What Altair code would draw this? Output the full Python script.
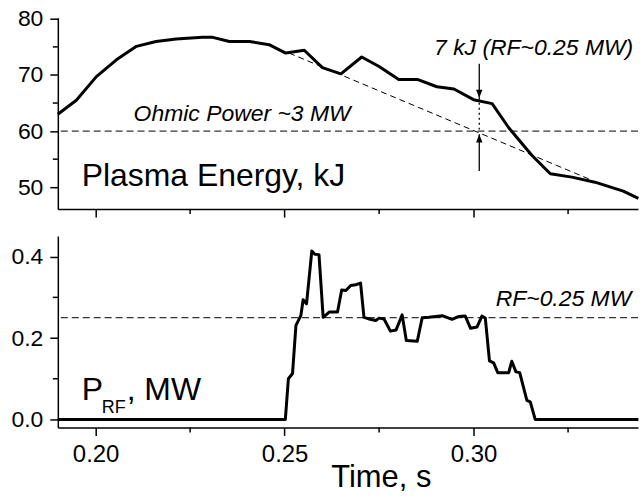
import altair as alt
import pandas as pd

FONT = "Liberation Sans"

# ---- data ----
energy_t = [0.1900, 0.1949, 0.2002, 0.2055, 0.2108, 0.2160, 0.2213, 0.2283, 0.2310,
            0.2354, 0.2407, 0.2459, 0.2503, 0.2552, 0.2600, 0.2649, 0.2704, 0.2750,
            0.2802, 0.2851, 0.2903, 0.2948, 0.3000, 0.3049, 0.3093, 0.3154, 0.3203,
            0.3260, 0.3321, 0.3396, 0.3436]
energy_kj = [63.0, 65.5, 69.7, 72.7, 75.1, 75.95, 76.4, 76.7, 76.7,
             75.95, 75.95, 75.4, 73.9, 74.4, 71.3, 70.2, 73.2, 71.5,
             69.2, 69.2, 67.9, 67.5, 65.6, 64.9, 60.6, 55.7, 52.4,
             51.8, 50.9, 49.3, 48.0]

prf_t = [0.1900, 0.2502, 0.2510, 0.2521, 0.2530, 0.2543, 0.2549, 0.2558, 0.2572, 0.2580,
         0.2591, 0.2602, 0.2618, 0.2640, 0.2651, 0.2662, 0.2675, 0.2688, 0.2701, 0.2710,
         0.2723, 0.2741, 0.2750, 0.2763, 0.2780, 0.2795, 0.2811, 0.2822, 0.2851, 0.2864,
         0.2882, 0.2917, 0.2943, 0.2961, 0.2978, 0.2992, 0.3009, 0.3022, 0.3031, 0.3042,
         0.3053, 0.3064, 0.3093, 0.3101, 0.3112, 0.3122, 0.3141, 0.3150, 0.3163, 0.3436]
prf_mw = [0.0, 0.0, 0.100, 0.113, 0.231, 0.255, 0.294, 0.284, 0.414, 0.406,
          0.405, 0.251, 0.264, 0.264, 0.318, 0.317, 0.329, 0.331, 0.335, 0.251,
          0.247, 0.243, 0.249, 0.247, 0.217, 0.220, 0.257, 0.194, 0.192, 0.250,
          0.251, 0.255, 0.246, 0.253, 0.254, 0.224, 0.227, 0.254, 0.249, 0.144,
          0.139, 0.115, 0.115, 0.143, 0.117, 0.115, 0.047, 0.043, 0.0, 0.0]

ohmic_level = 60
rf_level = 0.25
trend_t = [0.2512, 0.3313]
trend_kj = [73.9, 51.25]
arrow_t = 0.3015
arrow_top = [71.98, 65.94]      # upper solid arrow, tail -> tip
arrow_dot = [65.94, 60.3]       # dotted connector
arrow_bottom = [52.9, 59.42]    # lower solid arrow, tail -> tip

x_major = [0.20, 0.25, 0.30]
x_minor = [0.225, 0.275, 0.325]
e_major = [50, 60, 70, 80]
e_minor = [55, 65, 75]
p_major = [0.0, 0.2, 0.4]
p_minor = [0.1, 0.3]

X_DOMAIN = [0.19, 0.3435]
E_DOMAIN = [46.1, 80.2]
P_DOMAIN = [-0.0196, 0.4507]

W, H = 582, 192
MINOR = 5

df_e = pd.DataFrame({"t": energy_t, "E": energy_kj})
df_p = pd.DataFrame({"t": prf_t, "P": prf_mw})

xs = alt.Scale(domain=X_DOMAIN, nice=False, zero=False)
es = alt.Scale(domain=E_DOMAIN, nice=False, zero=False)
ps = alt.Scale(domain=P_DOMAIN, nice=False, zero=False)

x_axis_top = alt.Axis(values=x_major, labels=False, title=None)
x_axis_bot = alt.Axis(values=x_major, format=".2f",
                      title="Time, s", titleX=324, titleY=59, titleBaseline="alphabetic",
                      titleAlign="center")
y_axis_e = alt.Axis(values=e_major, format="d", title=None)
y_axis_p = alt.Axis(values=p_major, format=".1f", title=None)


def X():
    return alt.X("t:Q", scale=xs)


def minor_x(vals):
    return alt.Chart(pd.DataFrame({"t": vals})).mark_rule(color="black", strokeWidth=1.5).encode(
        x=X(), y=alt.value(H), y2=alt.value(H + MINOR))


def minor_y(vals, scale):
    return alt.Chart(pd.DataFrame({"v": vals})).mark_rule(color="black", strokeWidth=1.5).encode(
        y=alt.Y("v:Q", scale=scale), x=alt.value(0), x2=alt.value(-MINOR))


def label(t, v, text, scale, size, italic=False, align="left"):
    kw = dict(font=FONT, fontSize=size, align=align, baseline="alphabetic", color="black")
    if italic:
        kw["fontStyle"] = "italic"
    return alt.Chart(pd.DataFrame({"t": [t], "v": [v], "label": [text]})).mark_text(**kw).encode(
        x=X(), y=alt.Y("v:Q", scale=scale), text="label:N")


# ---------------- top panel ----------------
e_line = alt.Chart(df_e).mark_line(color="black", strokeWidth=3, strokeJoin="round").encode(
    x=alt.X("t:Q", scale=xs, axis=x_axis_top),
    y=alt.Y("E:Q", scale=es, axis=y_axis_e),
)
e_base = alt.Chart(pd.DataFrame({"v": [ohmic_level]})).mark_rule(
    color="black", strokeWidth=1, strokeDash=[7, 4]).encode(y=alt.Y("v:Q", scale=es))
trend = alt.Chart(pd.DataFrame({"t": trend_t, "E": trend_kj})).mark_line(
    color="black", strokeWidth=1, strokeDash=[6, 4]).encode(
    x=X(), y=alt.Y("E:Q", scale=es))

arr_df = pd.DataFrame({"t": [arrow_t, arrow_t], "y1": [arrow_top[0], arrow_bottom[0]],
                       "y2": [arrow_top[1], arrow_bottom[1]]})
arrows = alt.Chart(arr_df).mark_rule(color="black", strokeWidth=1.3).encode(
    x=X(), y=alt.Y("y1:Q", scale=es), y2="y2:Q")
dot_df = pd.DataFrame({"t": [arrow_t], "y1": [arrow_dot[0]], "y2": [arrow_dot[1]]})
dotted = alt.Chart(dot_df).mark_rule(color="black", strokeWidth=1.3, strokeDash=[2, 3]).encode(
    x=X(), y=alt.Y("y1:Q", scale=es), y2="y2:Q")
head_down = alt.Chart(pd.DataFrame({"t": [arrow_t], "E": [arrow_top[1]]})).mark_point(
    shape="M -0.4 -1 L 0.4 -1 L 0 0 Z", size=260, filled=True, color="black", opacity=1).encode(
    x=X(), y=alt.Y("E:Q", scale=es))
head_up = alt.Chart(pd.DataFrame({"t": [arrow_t], "E": [arrow_bottom[1]]})).mark_point(
    shape="M -0.4 1 L 0.4 1 L 0 0 Z", size=260, filled=True, color="black", opacity=1).encode(
    x=X(), y=alt.Y("E:Q", scale=es))

t_ohmic = label(0.21005, 61.73, "Ohmic Power ~3 MW", es, 23, italic=True)
t_kj = label(0.34224, 73.63, "7 kJ (RF~0.25 MW)", es, 23, italic=True, align="right")
t_pe = label(0.19633, 50.2, "Plasma Energy, kJ", es, 32)

top = alt.layer(e_line, e_base, trend, dotted, arrows, head_down, head_up, t_ohmic, t_kj, t_pe,
                minor_x(x_minor), minor_y(e_minor, es)).properties(width=W, height=H)

# ---------------- bottom panel ----------------
p_line = alt.Chart(df_p).mark_line(color="black", strokeWidth=3, strokeJoin="round").encode(
    x=alt.X("t:Q", scale=xs, axis=x_axis_bot),
    y=alt.Y("P:Q", scale=ps, axis=y_axis_p),
)
p_base = alt.Chart(pd.DataFrame({"v": [rf_level]})).mark_rule(
    color="black", strokeWidth=1, strokeDash=[7, 4]).encode(y=alt.Y("v:Q", scale=ps))
t_rf = label(0.34172, 0.2793, "RF~0.25 MW", ps, 23, italic=True, align="right")
t_p = label(0.19633, 0.0466, "P", ps, 32)
t_sub = label(0.20161, 0.0148, "RF", ps, 18)
t_mw = label(0.20821, 0.0466, ", MW", ps, 32)

bottom = alt.layer(p_line, p_base, t_rf, t_p, t_sub, t_mw,
                   minor_x(x_minor), minor_y(p_minor, ps)).properties(width=W, height=H)

chart = alt.vconcat(top, bottom, spacing=27, bounds="flush").properties(
    padding={"left": 0, "top": 7, "right": 0, "bottom": 0},
    background="white",
).configure_view(stroke=None).configure_axis(
    domainColor="black", domainWidth=1.5, tickColor="black", tickWidth=1.5, tickSize=8,
    grid=False, labelFont=FONT, labelColor="black", titleFont=FONT, titleColor="black",
    titleFontWeight="normal", titleFontSize=31,
).configure_axisY(
    labelFontSize=23, labelPadding=7, minExtent=58, maxExtent=58,
).configure_axisX(
    labelFontSize=24, labelPadding=7,
)

chart.save("out.html", embed_options={"renderer": "svg", "actions": False})
